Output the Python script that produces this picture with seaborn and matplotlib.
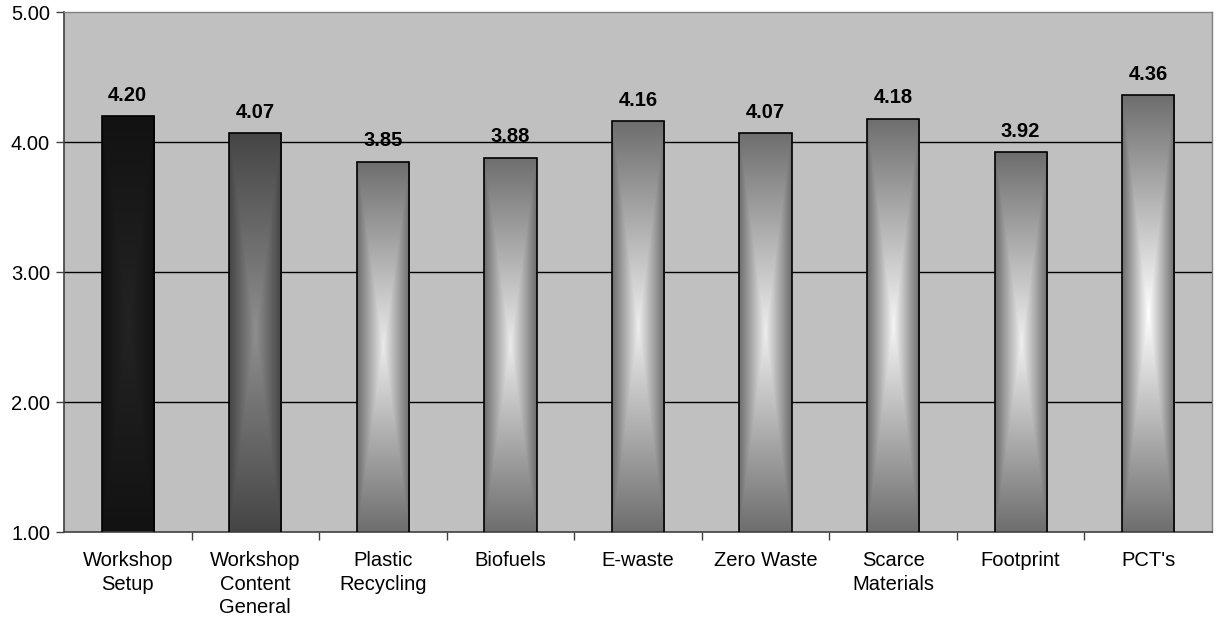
import numpy as np
import pandas as pd
import seaborn as sb
import matplotlib
matplotlib.use("Agg")
import matplotlib.pyplot as plt
from matplotlib.ticker import FixedLocator

# data
categories = ["Workshop\nSetup", "Workshop\nContent\nGeneral", "Plastic\nRecycling",
              "Biofuels", "E-waste", "Zero Waste", "Scarce\nMaterials", "Footprint", "PCT's"]
scores = [4.20, 4.07, 3.85, 3.88, 4.16, 4.07, 4.18, 3.92, 4.36]
# (edge, centre) grey levels of each bar's gradient
edge_grey = [0.07, 0.27, 0.43, 0.43, 0.43, 0.43, 0.43, 0.43, 0.43]
centre_grey = [0.14, 0.56, 0.92, 0.92, 0.93, 0.93, 0.96, 0.94, 1.0]

df = pd.DataFrame({"Item": categories, "Score": scores})

sb.set_style("white")
plt.rcParams["font.family"] = ["Liberation Sans", "DejaVu Sans"]
plt.rcParams["text.color"] = "black"
plt.rcParams["xtick.color"] = "black"
plt.rcParams["ytick.color"] = "black"

fig = plt.figure(figsize=(12.16, 6.24), dpi=100)
ax = fig.add_axes([64 / 1216, 1 - 532 / 624, (1212 - 64) / 1216, (532 - 12) / 624])
ax.set_facecolor("#c0c0c0")

sb.barplot(data=df, x="Item", y="Score", ax=ax, width=0.41, color="white",
           edgecolor="black", linewidth=1.2, zorder=3)

ax.set_ylim(1, 5)
ax.set_xlim(-0.5, len(categories) - 0.5)

# step: gradient fill inside each bar (bright centre, darker edges)
for i, patch in enumerate(ax.patches):
    x0, y0 = patch.get_x(), 1.0
    w, top = patch.get_width(), patch.get_y() + patch.get_height()
    nx, ny = 80, 500
    gx = np.abs(np.linspace(-1, 1, nx))[None, :]
    gy = np.abs(np.linspace(-1, 1, ny))[:, None]
    t = np.maximum(gx, gy)
    v = edge_grey[i] + (centre_grey[i] - edge_grey[i]) * (1 - t) ** 1.0
    img = np.dstack([v, v, v])
    im = ax.imshow(img, extent=[x0, x0 + w, y0, top], origin="lower",
                   aspect="auto", zorder=2.5, interpolation="bilinear")
    im.set_clip_path(patch)
    patch.set_facecolor("none")

ax.set_xlim(-0.5, len(categories) - 0.5)
ax.set_ylim(1, 5)

# value labels
for i, val in enumerate(scores):
    ax.annotate(f"{val:.2f}", (i, val), xytext=(0, 8), textcoords="offset points",
                ha="center", va="bottom", fontsize=14.5, fontweight="bold", zorder=5)

# grid + ticks
ax.set_yticks([1, 2, 3, 4, 5])
ax.set_yticklabels([f"{v:.2f}" for v in [1, 2, 3, 4, 5]], fontsize=14.5)
for g in [2, 3, 4]:
    ax.axhline(g, color="black", linewidth=1.0, zorder=1)
ax.xaxis.set_minor_locator(FixedLocator(np.arange(0.5, len(categories) - 0.5, 1)))
ax.tick_params(axis="x", which="major", bottom=True, length=0, pad=14, labelsize=14.5)
ax.tick_params(axis="x", which="minor", bottom=True, length=6, width=1, color="#404040", direction="out")
ax.tick_params(axis="y", left=True, length=6, width=1, color="#404040", direction="out", pad=4)
for lab in ax.get_xticklabels():
    lab.set_linespacing(1.3)
ax.set_xlabel("")
ax.set_ylabel("")

for side in ["top", "right"]:
    ax.spines[side].set_color("#808080")
    ax.spines[side].set_linewidth(1.0)
for side in ["left", "bottom"]:
    ax.spines[side].set_color("#404040")
    ax.spines[side].set_linewidth(1.2)

plt.savefig("out.png", dpi=100)
